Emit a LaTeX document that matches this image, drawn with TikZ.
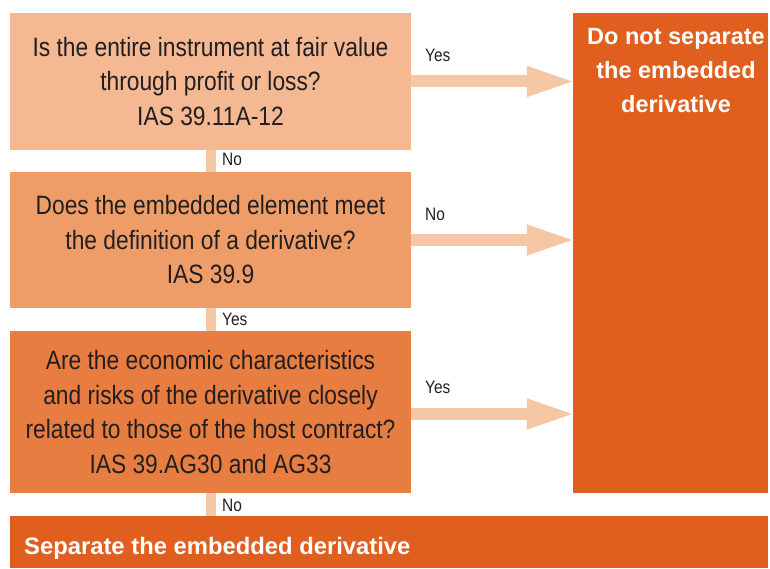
\documentclass[tikz,border=0pt]{standalone}
\usepackage{fontspec}
\setmainfont{Liberation Sans}
\newfontfamily\narrowsans[FakeStretch=0.86]{Liberation Sans}
\usetikzlibrary{arrows.meta}
\definecolor{qone}{HTML}{F4B892}
\definecolor{qtwo}{HTML}{EE9D69}
\definecolor{qthree}{HTML}{E77D40}
\definecolor{outcome}{HTML}{E05F1F}
\definecolor{flow}{HTML}{F6C7A5}
\definecolor{ink}{HTML}{231F20}
\begin{document}
\begin{tikzpicture}[x=1pt,y=-1pt,
  question/.style={draw=none,inner sep=0pt,minimum width=401pt,align=center,
    text=ink,font=\narrowsans\fontsize{26.5}{34.5}\selectfont},
  result/.style={fill=outcome,inner sep=0pt,text=white,
    font=\bfseries\fontsize{23.5}{34}\selectfont},
  down/.style={draw=flow,line width=10pt},
  across/.style={draw=flow,line width=12pt,shorten >=-4pt,
    -{Triangle[width=27pt,length=50pt]}},
  tag/.style={text=ink,font=\narrowsans\fontsize{18}{20}\selectfont,anchor=base west,inner sep=0pt}]
\useasboundingbox (0,0) rectangle (770,569);
% question boxes
\node[question,fill=qone,minimum height=137pt] (q1) at (210.5,81.5)
  {Is the entire instrument at fair value\\through profit or loss?\\IAS 39.11A-12};
\node[question,fill=qtwo,minimum height=136pt] (q2) at (210.5,240)
  {Does the embedded element meet\\the definition of a derivative?\\IAS 39.9};
\node[question,fill=qthree,minimum height=162pt] (q3) at (210.5,412)
  {Are the economic characteristics\\and risks of the derivative closely\\related to those of the host contract?\\IAS 39.AG30 and AG33};
% outcomes
\node[result,minimum width=195pt,minimum height=480pt] (keep) at (670.5,253) {};
\node[result,align=center,anchor=north] (keeptxt) at (676,28.5)
  {Do not separate\\the embedded\\derivative};
\node[result,minimum width=758pt,minimum height=52pt,anchor=north west] (split) at (10,516) {};
\node[result,anchor=base west,font=\bfseries\fontsize{23.8}{34}\selectfont] (splittxt) at (24,554.5)
  {Separate the embedded derivative};
% vertical flow
\draw[down] (q1.south) -- (q2.north);
\draw[down] (q2.south) -- (q3.north);
\draw[down] (q3.south) -- (q3.south |- split.north);
% arrows to the right outcome
\draw[across] (q1.east) -- (q1.east -| keep.west);
\draw[across] (q2.east) -- (q2.east -| keep.west);
\draw[across] ([yshift=-2pt]q3.east) -- ([yshift=-2pt]q3.east -| keep.west);
% answer labels
\node[tag] (l1) at (222,166) {No};
\node[tag] (l2) at (222,325) {Yes};
\node[tag] (l3) at (222,511) {No};
\node[tag] (l4) at (425,62) {Yes};
\node[tag] (l5) at (425,221) {No};
\node[tag] (l6) at (425,393) {Yes};
\end{tikzpicture}
\end{document}
